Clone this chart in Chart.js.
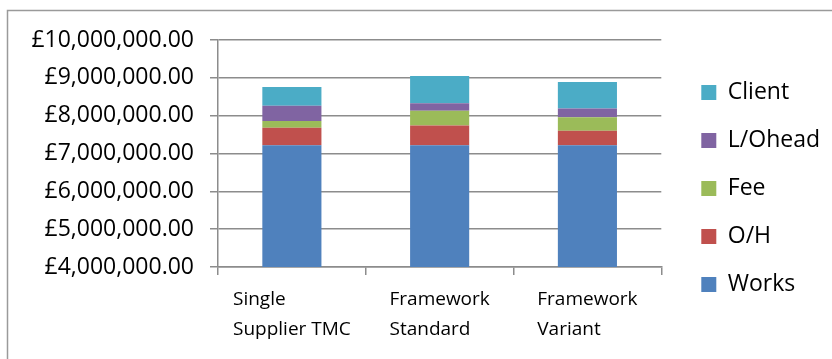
<!DOCTYPE html>
<html><head><meta charset="utf-8">
<script src="https://cdn.jsdelivr.net/npm/chart.js"></script>
<style>html,body{margin:0;padding:0;background:#fff;} #wrap{width:832px;height:359px;position:relative;}</style>
</head><body><div id="wrap"><canvas id="c" width="832" height="359"></canvas></div>
<script>
const categories = [['Single', 'Supplier TMC'], ['Framework', 'Standard'], ['Framework', 'Variant']];
const works    = [7220000, 7220000, 7220000];
const overhead = [460000, 520000, 380000];
const fee      = [180000, 390000, 360000];
const lOhead   = [400000, 200000, 230000];
const client   = [500000, 720000, 700000];
const yMin = 4000000, yMax = 10000000, yStep = 1000000;

const GRID = '#8c8c8c';
const FONT = '"Open Sans", "Noto Sans", sans-serif';

function fmtGBP(v) {
  return '£' + Number(v).toLocaleString('en-GB', {minimumFractionDigits: 2, maximumFractionDigits: 2});
}

const framePlugin = {
  id: 'frame',
  beforeDraw(chart) {
    const ctx = chart.ctx;
    ctx.save();
    ctx.fillStyle = '#fff';
    ctx.fillRect(0, 0, chart.width, chart.height);
    ctx.strokeStyle = '#9a9a9a';
    ctx.lineWidth = 1.5;
    ctx.strokeRect(7.5, 10.5, 900, 500);
    ctx.restore();
  }
};

// leave a small gap between the plot area and the legend
const legendGapPlugin = {
  id: 'legendGap',
  afterLayout(chart) {
    const lg = chart.legend;
    if (!lg) return;
    lg.left = chart.chartArea.right + 15;
    lg.right = lg.left + lg.width;
  }
};

const xLabelPlugin = {
  id: 'xLabels',
  afterDraw(chart) {
    const ctx = chart.ctx, xs = chart.scales.x;
    ctx.save();
    ctx.font = '19px ' + FONT;
    ctx.fillStyle = '#000';
    ctx.textAlign = 'left';
    ctx.textBaseline = 'alphabetic';
    chart.data.labels.forEach((lines, i) => {
      const cx = xs.getPixelForValue(i);
      const w = Math.max(...lines.map(l => ctx.measureText(l).width));
      const left = cx - w / 2;
      lines.forEach((l, j) => ctx.fillText(l, left, chart.chartArea.bottom + 38 + j * 30));
    });
    ctx.restore();
  }
};

function build() {
  new Chart(document.getElementById('c'), {
    type: 'bar',
    data: {
      labels: categories,
      datasets: [
        {label: 'Works', data: works, backgroundColor: '#4F81BD'},
        {label: 'O/H', data: overhead, backgroundColor: '#C0504D'},
        {label: 'Fee', data: fee, backgroundColor: '#9BBB59'},
        {label: 'L/Ohead', data: lOhead, backgroundColor: '#8064A2'},
        {label: 'Client', data: client, backgroundColor: '#4BACC6'}
      ]
    },
    options: {
      responsive: false,
      animation: false,
      devicePixelRatio: 1,
      layout: {padding: {top: 40, bottom: 22, left: 0, right: 17}},
      datasets: {bar: {categoryPercentage: 1, barPercentage: 0.4, borderWidth: 0}},
      scales: {
        x: {
          stacked: true,
          grid: {display: true, drawOnChartArea: false, drawTicks: true, tickLength: 8, color: GRID, lineWidth: 1.5, offset: true},
          border: {display: true, color: GRID, width: 1.5},
          ticks: {display: false},
          afterFit: s => { s.height = 70; }
        },
        y: {
          stacked: true,
          min: yMin, max: yMax,
          grid: {color: GRID, lineWidth: 1.5, tickLength: 8},
          border: {display: true, color: GRID, width: 1.5},
          ticks: {stepSize: yStep, padding: 16, color: '#000', font: {family: FONT, size: 23}, callback: v => fmtGBP(v)},
          afterFit: s => { s.width = 218; }
        }
      },
      plugins: {
        legend: {
          position: 'right',
          reverse: true,
          labels: {boxWidth: 15, boxHeight: 15, padding: 25, color: '#000', font: {family: FONT, size: 23}}
        },
        tooltip: {enabled: false}
      }
    },
    plugins: [framePlugin, legendGapPlugin, xLabelPlugin]
  });
}

Promise.all([
  document.fonts.load('23px "Open Sans"', '£0123456789LOheadClientWorks/'),
  document.fonts.load('19px "Open Sans"', 'SingleFramework')
]).then(build, build);
</script>
</body></html>
